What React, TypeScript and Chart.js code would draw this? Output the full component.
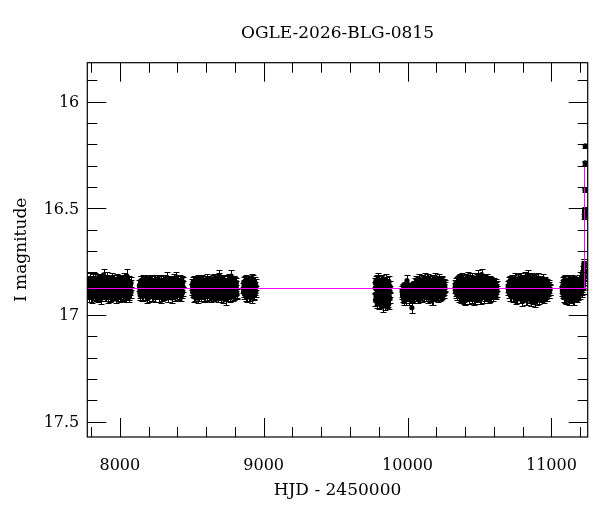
import React, { useEffect, useRef } from "react";
import { Chart, registerables } from "chart.js";

Chart.register(...registerables);

type Obs = [number, number, number]; // [HJD-2450000, I mag, error]
type Pt = [number, number]; // [HJD-2450000, I mag] with FILL_ERR

const TITLE = "OGLE-2026-BLG-0815";
const X_TITLE = "HJD - 2450000";
const Y_TITLE = "I magnitude";

const X_MIN = 7774;
const X_MAX = 11252;
const Y_MIN = 15.817;
const Y_MAX = 17.572;

const X_TICKS = [7800, 8000, 8200, 8400, 8600, 8800, 9000, 9200, 9400, 9600, 9800, 10000, 10200, 10400, 10600, 10800, 11000, 11200];
const X_MAJOR_TICKS = [8000, 9000, 10000, 11000];
const X_TICK_LABELS = ["8000", "9000", "10000", "11000"];
const Y_TICKS = [15.9, 16.0, 16.1, 16.2, 16.3, 16.4, 16.5, 16.6, 16.7, 16.8, 16.9, 17.0, 17.1, 17.2, 17.3, 17.4, 17.5];
const Y_MAJOR_TICKS = [16, 16.5, 17, 17.5];
const Y_TICK_LABELS = ["16", "16.5", "17", "17.5"];

const BASELINE_MAG = 16.874;
const T0 = 11226;
const PEAK_LINE_MAG = 16.3;
const FILL_ERR = 0.024;

const season1: Obs[] = [
  [7778, 16.842, .024], [7780, 16.889, .025], [7783, 16.866, .023], [7786, 16.911, .026], [7790, 16.828, .025],
  [7794, 16.872, .024], [7797, 16.902, .025], [7801, 16.848, .023], [7805, 16.884, .026], [7808, 16.918, .024],
  [7812, 16.835, .025], [7816, 16.861, .024], [7820, 16.897, .023], [7824, 16.876, .027], [7828, 16.829, .024],
  [7832, 16.908, .025], [7836, 16.852, .024], [7840, 16.888, .026], [7844, 16.869, .023], [7848, 16.915, .025],
  [7852, 16.838, .024], [7856, 16.879, .026], [7860, 16.899, .024], [7864, 16.845, .025], [7868, 16.871, .023],
  [7872, 16.922, .026], [7876, 16.832, .024], [7880, 16.858, .025], [7884, 16.894, .024], [7887, 16.812, .030],
  [7891, 16.876, .023], [7895, 16.909, .026], [7899, 16.843, .024], [7903, 16.866, .025], [7907, 16.887, .024],
  [7911, 16.826, .026], [7915, 16.917, .025], [7919, 16.853, .023], [7923, 16.882, .024], [7927, 16.898, .025],
  [7931, 16.839, .024], [7935, 16.870, .026], [7939, 16.912, .024], [7943, 16.848, .025], [7947, 16.826, .023],
  [7951, 16.891, .024], [7955, 16.864, .026], [7959, 16.905, .025], [7963, 16.836, .024], [7967, 16.877, .023],
  [7971, 16.919, .025], [7975, 16.856, .024], [7979, 16.884, .026], [7983, 16.831, .025], [7987, 16.899, .024],
  [7991, 16.868, .023], [7995, 16.846, .025], [7999, 16.913, .024], [8003, 16.875, .026], [8007, 16.838, .024],
  [8011, 16.892, .025], [8015, 16.861, .024], [8019, 16.908, .023], [8023, 16.845, .025], [8027, 16.881, .024],
  [8031, 16.829, .026], [8035, 16.897, .025], [8039, 16.866, .024], [8043, 16.916, .024], [8047, 16.815, .030],
  [8051, 16.853, .024], [8055, 16.887, .025], [8059, 16.871, .023], [8063, 16.904, .024], [8067, 16.842, .025],
  [8071, 16.878, .026], [8075, 16.858, .024], [8078, 16.893, .025],
];
const season1b: Pt[] = [
  [7782, 16.900], [7788, 16.853], [7792, 16.881], [7799, 16.865], [7803, 16.913], [7810, 16.840], [7814, 16.893],
  [7818, 16.872], [7822, 16.846], [7826, 16.904], [7830, 16.861], [7834, 16.886], [7838, 16.833], [7842, 16.907],
  [7846, 16.857], [7850, 16.878], [7854, 16.896], [7858, 16.841], [7862, 16.865], [7866, 16.912], [7870, 16.851],
  [7874, 16.884], [7878, 16.903], [7882, 16.838], [7889, 16.862], [7893, 16.849], [7897, 16.891], [7901, 16.874],
  [7905, 16.909], [7909, 16.856], [7913, 16.838], [7917, 16.883], [7921, 16.868], [7925, 16.843], [7929, 16.915],
  [7933, 16.882], [7937, 16.854], [7941, 16.874], [7945, 16.899], [7949, 16.860], [7953, 16.837], [7957, 16.885],
  [7961, 16.866], [7965, 16.907], [7969, 16.849], [7973, 16.890], [7977, 16.836], [7981, 16.873], [7985, 16.856],
  [7989, 16.912], [7993, 16.880], [7997, 16.864], [8001, 16.842], [8005, 16.900], [8009, 16.869], [8013, 16.835],
  [8017, 16.883], [8021, 16.857], [8025, 16.909], [8029, 16.866], [8033, 16.848], [8037, 16.886], [8041, 16.874],
  [8045, 16.838], [8049, 16.902], [8053, 16.869], [8057, 16.845], [8061, 16.881], [8065, 16.914], [8069, 16.860],
  [8073, 16.897], [8077, 16.848],
];

const season2: Obs[] = [
  [8136, 16.862, .024], [8140, 16.895, .025], [8144, 16.843, .024], [8148, 16.878, .026], [8152, 16.910, .024],
  [8156, 16.851, .025], [8160, 16.886, .023], [8164, 16.838, .024], [8168, 16.869, .026], [8172, 16.903, .025],
  [8176, 16.857, .024], [8180, 16.892, .023], [8184, 16.874, .025], [8188, 16.842, .024], [8192, 16.916, .026],
  [8196, 16.861, .024], [8200, 16.884, .025], [8204, 16.848, .024], [8208, 16.899, .023], [8212, 16.867, .025],
  [8216, 16.835, .024], [8220, 16.880, .026], [8224, 16.908, .024], [8228, 16.853, .025], [8232, 16.872, .024],
  [8236, 16.893, .023], [8240, 16.839, .025], [8244, 16.864, .024], [8248, 16.914, .026], [8252, 16.849, .024],
  [8256, 16.886, .025], [8260, 16.870, .024], [8264, 16.902, .023], [8268, 16.837, .025], [8272, 16.877, .024],
  [8276, 16.858, .026], [8280, 16.896, .024], [8284, 16.843, .025], [8288, 16.918, .024], [8292, 16.866, .023],
  [8296, 16.889, .025], [8300, 16.851, .024], [8304, 16.874, .026], [8308, 16.905, .024], [8312, 16.836, .025],
  [8316, 16.881, .024], [8320, 16.860, .023], [8324, 16.897, .025], [8328, 16.825, .028], [8332, 16.912, .026],
  [8336, 16.846, .024], [8340, 16.871, .025], [8344, 16.888, .024], [8348, 16.838, .023], [8352, 16.901, .025],
  [8356, 16.863, .024], [8360, 16.920, .026], [8364, 16.850, .024], [8368, 16.884, .025], [8372, 16.869, .024],
  [8376, 16.832, .023], [8380, 16.895, .025], [8384, 16.857, .024], [8388, 16.826, .028], [8392, 16.877, .026],
  [8396, 16.907, .024], [8400, 16.844, .025], [8404, 16.883, .024], [8408, 16.866, .023], [8412, 16.899, .025],
  [8416, 16.838, .024], [8420, 16.874, .026], [8424, 16.852, .024], [8428, 16.911, .025], [8432, 16.861, .024],
  [8436, 16.890, .023], [8439, 16.845, .025],
];
const season2b: Pt[] = [
  [8138, 16.874], [8142, 16.907], [8146, 16.856], [8150, 16.840], [8154, 16.883], [8158, 16.869], [8162, 16.912],
  [8166, 16.847], [8170, 16.886], [8174, 16.836], [8178, 16.873], [8182, 16.905], [8186, 16.858], [8190, 16.880],
  [8194, 16.845], [8198, 16.898], [8202, 16.866], [8206, 16.917], [8210, 16.852], [8214, 16.884], [8218, 16.863],
  [8222, 16.843], [8226, 16.893], [8230, 16.876], [8234, 16.910], [8238, 16.857], [8242, 16.887], [8246, 16.838],
  [8250, 16.870], [8254, 16.902], [8258, 16.847], [8262, 16.881], [8266, 16.861], [8270, 16.913], [8274, 16.842],
  [8278, 16.875], [8282, 16.866], [8286, 16.890], [8290, 16.849], [8294, 16.908], [8298, 16.871], [8302, 16.837],
  [8306, 16.884], [8310, 16.858], [8314, 16.900], [8318, 16.845], [8322, 16.876], [8326, 16.861], [8330, 16.889],
  [8334, 16.870], [8338, 16.915], [8342, 16.852], [8346, 16.881], [8350, 16.865], [8354, 16.840], [8358, 16.894],
  [8362, 16.876], [8366, 16.903], [8370, 16.847], [8374, 16.864], [8378, 16.886], [8382, 16.910], [8386, 16.841],
  [8390, 16.871], [8394, 16.856], [8398, 16.893], [8402, 16.866], [8406, 16.838], [8410, 16.880], [8414, 16.905],
  [8418, 16.859], [8422, 16.887], [8426, 16.871], [8430, 16.842], [8434, 16.898], [8438, 16.866],
];

const season3: Obs[] = [
  [8503, 16.858, .025], [8507, 16.893, .024], [8511, 16.846, .026], [8515, 16.912, .025], [8519, 16.871, .024],
  [8523, 16.838, .023], [8527, 16.884, .025], [8531, 16.902, .024], [8535, 16.855, .026], [8539, 16.877, .024],
  [8543, 16.921, .025], [8547, 16.842, .024], [8551, 16.866, .023], [8555, 16.895, .025], [8559, 16.851, .024],
  [8563, 16.883, .026], [8567, 16.910, .024], [8571, 16.836, .025], [8575, 16.872, .024], [8579, 16.899, .023],
  [8583, 16.859, .025], [8587, 16.887, .024], [8591, 16.845, .026], [8595, 16.914, .024], [8599, 16.868, .025],
  [8603, 16.834, .024], [8607, 16.891, .023], [8611, 16.876, .025], [8615, 16.853, .024], [8619, 16.905, .026],
  [8623, 16.840, .024], [8627, 16.880, .025], [8631, 16.864, .024], [8635, 16.918, .023], [8639, 16.848, .025],
  [8643, 16.886, .024], [8647, 16.870, .026], [8651, 16.897, .024], [8655, 16.832, .025], [8659, 16.861, .024],
  [8663, 16.908, .023], [8667, 16.843, .025], [8671, 16.878, .024], [8675, 16.892, .026], [8679, 16.855, .024],
  [8683, 16.916, .025], [8687, 16.829, .024], [8691, 16.815, .028], [8695, 16.873, .023], [8699, 16.901, .025],
  [8703, 16.849, .024], [8707, 16.885, .026], [8711, 16.863, .024], [8715, 16.920, .025], [8719, 16.838, .024],
  [8723, 16.876, .023], [8727, 16.894, .025], [8731, 16.851, .024], [8735, 16.868, .026], [8738, 16.925, .028],
  [8742, 16.842, .024], [8746, 16.883, .025], [8750, 16.909, .024], [8754, 16.857, .023], [8758, 16.872, .025],
  [8762, 16.833, .024], [8766, 16.896, .026], [8770, 16.865, .024], [8774, 16.817, .028], [8778, 16.889, .025],
  [8782, 16.847, .024], [8786, 16.913, .023], [8790, 16.870, .025], [8794, 16.839, .024], [8798, 16.893, .026],
  [8802, 16.861, .024], [8806, 16.882, .025], [8810, 16.850, .024], [8814, 16.903, .023],
];
const season3b: Pt[] = [
  [8505, 16.880], [8509, 16.866], [8513, 16.842], [8517, 16.895], [8521, 16.857], [8525, 16.908], [8529, 16.848],
  [8533, 16.873], [8537, 16.890], [8541, 16.862], [8545, 16.838], [8549, 16.886], [8553, 16.910], [8557, 16.869],
  [8561, 16.844], [8565, 16.878], [8569, 16.857], [8573, 16.900], [8577, 16.850], [8581, 16.884], [8585, 16.915],
  [8589, 16.866], [8593, 16.839], [8597, 16.893], [8601, 16.875], [8605, 16.852], [8609, 16.908], [8613, 16.841],
  [8617, 16.883], [8621, 16.869], [8625, 16.897], [8629, 16.848], [8633, 16.876], [8637, 16.861], [8641, 16.903],
  [8645, 16.838], [8649, 16.884], [8653, 16.912], [8657, 16.853], [8661, 16.879], [8665, 16.865], [8669, 16.899],
  [8673, 16.842], [8677, 16.870], [8681, 16.888], [8685, 16.851], [8689, 16.905], [8693, 16.838], [8697, 16.862],
  [8701, 16.884], [8705, 16.914], [8709, 16.846], [8713, 16.877], [8717, 16.896], [8721, 16.858], [8725, 16.840],
  [8729, 16.910], [8733, 16.880], [8737, 16.866], [8740, 16.893], [8744, 16.853], [8748, 16.872], [8752, 16.836],
  [8756, 16.900], [8760, 16.884], [8764, 16.850], [8768, 16.915], [8772, 16.862], [8776, 16.844], [8780, 16.874],
  [8784, 16.892], [8788, 16.857], [8792, 16.906], [8796, 16.871], [8800, 16.845], [8804, 16.886], [8808, 16.864],
  [8812, 16.897],
];

const season4: Obs[] = [
  [8858, 16.874, .025], [8862, 16.848, .024], [8866, 16.901, .026], [8870, 16.862, .024], [8874, 16.889, .025],
  [8878, 16.835, .024], [8882, 16.915, .025], [8886, 16.870, .023], [8890, 16.852, .024], [8894, 16.896, .026],
  [8898, 16.880, .024], [8902, 16.841, .025], [8906, 16.908, .024], [8910, 16.866, .023], [8914, 16.886, .025],
  [8918, 16.833, .026], [8922, 16.919, .025], [8926, 16.857, .024], [8930, 16.877, .025], [8934, 16.899, .024],
  [8938, 16.846, .023], [8942, 16.871, .025], [8945, 16.890, .024],
];
const season4b: Pt[] = [
  [8860, 16.893], [8864, 16.858], [8868, 16.880], [8872, 16.840], [8876, 16.910], [8880, 16.866], [8884, 16.897],
  [8888, 16.850], [8892, 16.876], [8896, 16.912], [8900, 16.862], [8904, 16.885], [8908, 16.845], [8912, 16.899],
  [8916, 16.870], [8920, 16.855], [8924, 16.890], [8928, 16.838], [8932, 16.868], [8936, 16.905], [8940, 16.882],
  [8944, 16.857],
];

const season5: Obs[] = [
  [9775, 16.873, .026], [9777, 16.930, .027], [9779, 16.902, .027], [9783, 16.851, .025], [9785, 16.880, .026],
  [9787, 16.925, .028], [9791, 16.838, .026], [9793, 16.910, .025], [9795, 16.829, .028], [9799, 16.884, .025],
  [9801, 16.857, .026], [9803, 16.947, .027], [9807, 16.861, .026], [9809, 16.942, .027], [9811, 16.912, .025],
  [9815, 16.843, .027], [9817, 16.870, .025], [9819, 16.890, .026], [9823, 16.933, .028], [9825, 16.840, .026],
  [9827, 16.868, .025], [9831, 16.955, .030], [9833, 16.908, .025], [9835, 16.849, .026], [9839, 16.897, .025],
  [9841, 16.950, .028], [9843, 16.918, .027], [9847, 16.836, .026], [9849, 16.889, .026], [9851, 16.876, .025],
  [9855, 16.940, .028], [9857, 16.846, .025], [9859, 16.858, .026], [9863, 16.905, .025], [9865, 16.935, .027],
  [9867, 16.882, .027], [9871, 16.845, .026], [9873, 16.896, .026], [9875, 16.921, .025], [9878, 16.866, .026],
];
const season5b: Pt[] = [
  [9776, 16.850], [9780, 16.840], [9781, 16.915], [9789, 16.870], [9790, 16.945], [9797, 16.900], [9800, 16.920],
  [9805, 16.890], [9810, 16.876], [9813, 16.928], [9820, 16.850], [9821, 16.860], [9829, 16.898], [9830, 16.880],
  [9837, 16.925], [9840, 16.870], [9845, 16.865], [9850, 16.935], [9853, 16.910], [9860, 16.915], [9861, 16.885],
  [9869, 16.950], [9870, 16.905], [9877, 16.890],
];

const season6: Obs[] = [
  [9962, 16.889, .025], [9966, 16.912, .026], [9970, 16.878, .024], [9974, 16.930, .025], [9978, 16.895, .024],
  [9982, 16.869, .026], [9986, 16.918, .025], [9990, 16.884, .024], [9996, 16.839, .027], [10000, 16.903, .025],
  [10004, 16.874, .024], [10008, 16.925, .026], [10012, 16.888, .024], [10016, 16.910, .025], [10020, 16.872, .024],
  [10024, 16.897, .023], [10030, 16.966, .025], [10034, 16.881, .024], [10038, 16.916, .026], [10042, 16.866, .025],
  [10046, 16.899, .024], [10050, 16.852, .025], [10054, 16.884, .024], [10058, 16.906, .026], [10062, 16.840, .025],
  [10066, 16.873, .024], [10070, 16.921, .025], [10074, 16.857, .024], [10078, 16.890, .023], [10082, 16.835, .025],
  [10086, 16.868, .024], [10090, 16.904, .026], [10094, 16.849, .024], [10098, 16.882, .025], [10102, 16.917, .024],
  [10106, 16.838, .023], [10110, 16.862, .025], [10114, 16.895, .024], [10118, 16.876, .026], [10122, 16.843, .024],
  [10126, 16.909, .025], [10130, 16.866, .024], [10134, 16.887, .023], [10138, 16.833, .025], [10142, 16.920, .026],
  [10146, 16.853, .024], [10150, 16.878, .025], [10154, 16.899, .024], [10158, 16.841, .023], [10162, 16.870, .025],
  [10166, 16.912, .024], [10170, 16.928, .026], [10174, 16.855, .024], [10178, 16.925, .028], [10182, 16.884, .025],
  [10186, 16.837, .024], [10190, 16.903, .023], [10194, 16.864, .025], [10198, 16.846, .024], [10202, 16.890, .026],
  [10206, 16.874, .024], [10210, 16.915, .025], [10214, 16.839, .024], [10218, 16.860, .023], [10222, 16.896, .025],
  [10226, 16.880, .024], [10230, 16.852, .026], [10234, 16.907, .024], [10238, 16.868, .025], [10242, 16.845, .024],
  [10246, 16.886, .023], [10250, 16.872, .025], [10254, 16.898, .024], [10258, 16.862, .025],
];
const season6b: Pt[] = [
  [9964, 16.900], [9968, 16.884], [9972, 16.918], [9976, 16.876], [9980, 16.905], [9984, 16.893], [9988, 16.928],
  [9992, 16.870], [9998, 16.912], [10002, 16.886], [10006, 16.898], [10010, 16.875], [10014, 16.922], [10018, 16.890],
  [10022, 16.908], [10026, 16.879], [10028, 16.915], [10032, 16.895], [10036, 16.868], [10040, 16.903], [10044, 16.883],
  [10048, 16.920], [10052, 16.869], [10056, 16.892], [10060, 16.857], [10064, 16.910], [10068, 16.880], [10072, 16.846],
  [10076, 16.898], [10080, 16.865], [10084, 16.913], [10088, 16.850], [10092, 16.886], [10096, 16.870], [10100, 16.838],
  [10104, 16.895], [10108, 16.877], [10112, 16.910], [10116, 16.853], [10120, 16.889], [10124, 16.828], [10128, 16.871],
  [10132, 16.902], [10136, 16.855], [10140, 16.884], [10144, 16.830], [10148, 16.896], [10152, 16.866], [10156, 16.915],
  [10160, 16.849], [10164, 16.880], [10168, 16.836], [10172, 16.902], [10176, 16.872], [10180, 16.858], [10184, 16.910],
  [10188, 16.829], [10192, 16.884], [10196, 16.868], [10200, 16.905], [10204, 16.850], [10208, 16.890], [10212, 16.866],
  [10216, 16.832], [10220, 16.878], [10224, 16.912], [10228, 16.858], [10232, 16.886], [10236, 16.842], [10240, 16.900],
  [10244, 16.866], [10248, 16.894], [10252, 16.855], [10256, 16.880], [10259, 16.870],
];

const season7: Obs[] = [
  [10330, 16.872, .024], [10334, 16.893, .025], [10338, 16.851, .024], [10342, 16.880, .026], [10346, 16.905, .024],
  [10350, 16.843, .025], [10354, 16.866, .024], [10358, 16.914, .023], [10362, 16.833, .025], [10366, 16.888, .024],
  [10370, 16.858, .026], [10374, 16.921, .024], [10378, 16.827, .025], [10382, 16.874, .024], [10386, 16.899, .023],
  [10390, 16.846, .025], [10394, 16.915, .024], [10398, 16.862, .026], [10402, 16.930, .025], [10406, 16.838, .024],
  [10410, 16.882, .025], [10414, 16.908, .024], [10418, 16.824, .026], [10422, 16.869, .024], [10426, 16.924, .025],
  [10430, 16.852, .024], [10434, 16.891, .023], [10438, 16.836, .025], [10442, 16.877, .024], [10446, 16.918, .026],
  [10450, 16.829, .024], [10454, 16.860, .025], [10458, 16.902, .024], [10462, 16.845, .023], [10466, 16.885, .025],
  [10470, 16.926, .024], [10474, 16.831, .026], [10478, 16.871, .024], [10482, 16.909, .025], [10486, 16.850, .024],
  [10490, 16.816, .027], [10494, 16.892, .025], [10498, 16.864, .024], [10502, 16.922, .026], [10506, 16.837, .024],
  [10510, 16.880, .025], [10514, 16.811, .027], [10518, 16.903, .024], [10522, 16.855, .025], [10526, 16.873, .024],
  [10530, 16.917, .026], [10534, 16.842, .024], [10538, 16.889, .025], [10542, 16.866, .024], [10546, 16.910, .023],
  [10550, 16.834, .025], [10554, 16.877, .024], [10558, 16.898, .026], [10562, 16.848, .024], [10566, 16.920, .025],
  [10570, 16.869, .024], [10574, 16.840, .023], [10578, 16.887, .025], [10582, 16.911, .024], [10586, 16.856, .026],
  [10590, 16.875, .024], [10594, 16.902, .025], [10598, 16.850, .024], [10602, 16.884, .023], [10606, 16.866, .025],
  [10610, 16.897, .024], [10614, 16.858, .026], [10618, 16.879, .024], [10621, 16.890, .025],
];
const season7b: Pt[] = [
  [10332, 16.858], [10336, 16.886], [10340, 16.866], [10344, 16.848], [10348, 16.897], [10352, 16.878], [10356, 16.838],
  [10360, 16.895], [10364, 16.861], [10368, 16.912], [10372, 16.848], [10376, 16.883], [10380, 16.905], [10384, 16.838],
  [10388, 16.870], [10392, 16.926], [10396, 16.852], [10400, 16.886], [10404, 16.830], [10408, 16.912], [10412, 16.862],
  [10416, 16.895], [10420, 16.845], [10424, 16.883], [10428, 16.905], [10432, 16.825], [10436, 16.866], [10440, 16.900],
  [10444, 16.852], [10448, 16.888], [10452, 16.912], [10456, 16.840], [10460, 16.874], [10464, 16.927], [10468, 16.858],
  [10472, 16.895], [10476, 16.846], [10480, 16.830], [10484, 16.880], [10488, 16.915], [10492, 16.862], [10496, 16.838],
  [10500, 16.902], [10504, 16.878], [10508, 16.925], [10512, 16.848], [10516, 16.866], [10520, 16.832], [10524, 16.894],
  [10528, 16.860], [10532, 16.878], [10536, 16.910], [10540, 16.835], [10544, 16.887], [10548, 16.858], [10552, 16.904],
  [10556, 16.845], [10560, 16.875], [10564, 16.893], [10568, 16.852], [10572, 16.915], [10576, 16.866], [10580, 16.848],
  [10584, 16.896], [10588, 16.878], [10592, 16.860], [10596, 16.910], [10600, 16.872], [10604, 16.855], [10608, 16.888],
  [10612, 16.870], [10616, 16.902], [10620, 16.864],
];

const season8: Obs[] = [
  [10699, 16.866, .024], [10703, 16.893, .025], [10707, 16.845, .024], [10711, 16.878, .026], [10715, 16.908, .024],
  [10719, 16.852, .025], [10723, 16.887, .024], [10727, 16.836, .023], [10731, 16.870, .025], [10735, 16.916, .024],
  [10739, 16.858, .026], [10743, 16.895, .024], [10747, 16.829, .025], [10751, 16.881, .024], [10755, 16.925, .023],
  [10759, 16.847, .025], [10763, 16.869, .024], [10767, 16.903, .026], [10771, 16.834, .024], [10775, 16.889, .025],
  [10779, 16.918, .024], [10783, 16.855, .023], [10787, 16.876, .025], [10791, 16.825, .024], [10795, 16.931, .026],
  [10799, 16.863, .024], [10803, 16.897, .025], [10807, 16.841, .024], [10811, 16.884, .023], [10815, 16.912, .025],
  [10819, 16.822, .024], [10823, 16.871, .026], [10827, 16.850, .024], [10831, 16.926, .025], [10835, 16.815, .028],
  [10839, 16.892, .024], [10843, 16.861, .025], [10847, 16.906, .024], [10851, 16.838, .023], [10855, 16.879, .025],
  [10859, 16.933, .024], [10863, 16.827, .026], [10867, 16.868, .024], [10871, 16.899, .025], [10875, 16.846, .024],
  [10879, 16.921, .023], [10883, 16.883, .025], [10886, 16.935, .026], [10890, 16.832, .024], [10894, 16.873, .025],
  [10898, 16.910, .024], [10902, 16.854, .023], [10906, 16.890, .025], [10910, 16.840, .024], [10914, 16.924, .026],
  [10918, 16.866, .024], [10922, 16.897, .025], [10926, 16.848, .024], [10930, 16.880, .023], [10934, 16.915, .025],
  [10938, 16.859, .024], [10942, 16.835, .026], [10946, 16.887, .024], [10950, 16.906, .025], [10954, 16.870, .024],
  [10958, 16.851, .023], [10962, 16.896, .025], [10966, 16.877, .024], [10970, 16.909, .026], [10974, 16.862, .024],
  [10978, 16.884, .025], [10982, 16.871, .024], [10986, 16.893, .025], [10989, 16.880, .024],
];
const season8b: Pt[] = [
  [10701, 16.880], [10705, 16.860], [10709, 16.898], [10713, 16.840], [10717, 16.873], [10721, 16.912], [10725, 16.866],
  [10729, 16.852], [10733, 16.894], [10737, 16.837], [10741, 16.878], [10745, 16.910], [10749, 16.858], [10753, 16.846],
  [10757, 16.888], [10761, 16.918], [10765, 16.832], [10769, 16.874], [10773, 16.860], [10777, 16.900], [10781, 16.840],
  [10785, 16.922], [10789, 16.866], [10793, 16.884], [10797, 16.838], [10801, 16.910], [10805, 16.876], [10809, 16.852],
  [10813, 16.895], [10817, 16.866], [10821, 16.930], [10825, 16.840], [10829, 16.882], [10833, 16.826], [10837, 16.860],
  [10841, 16.918], [10845, 16.875], [10849, 16.892], [10853, 16.830], [10857, 16.905], [10861, 16.850], [10865, 16.884],
  [10869, 16.925], [10873, 16.866], [10877, 16.838], [10881, 16.898], [10885, 16.858], [10888, 16.915], [10892, 16.880],
  [10896, 16.845], [10900, 16.930], [10904, 16.870], [10908, 16.828], [10912, 16.900], [10916, 16.858], [10920, 16.884],
  [10924, 16.840], [10928, 16.912], [10932, 16.866], [10936, 16.895], [10940, 16.850], [10944, 16.878], [10948, 16.918],
  [10952, 16.845], [10956, 16.886], [10960, 16.866], [10964, 16.902], [10968, 16.856], [10972, 16.888], [10976, 16.872],
  [10980, 16.898], [10984, 16.860], [10988, 16.884],
];

const season9: Obs[] = [
  [11074, 16.872, .025], [11078, 16.898, .024], [11082, 16.850, .026], [11086, 16.915, .025], [11090, 16.866, .024],
  [11094, 16.838, .025], [11098, 16.887, .024], [11102, 16.924, .026], [11106, 16.859, .024], [11110, 16.903, .025],
  [11114, 16.876, .024], [11118, 16.842, .023], [11122, 16.930, .025], [11126, 16.868, .024], [11130, 16.893, .026],
  [11134, 16.851, .024], [11138, 16.918, .025], [11142, 16.880, .024], [11146, 16.835, .023], [11150, 16.907, .025],
  [11154, 16.861, .024], [11158, 16.926, .026], [11162, 16.874, .024], [11166, 16.845, .025], [11170, 16.896, .024],
  [11174, 16.868, .023], [11178, 16.912, .025], [11182, 16.852, .024], [11186, 16.884, .026], [11190, 16.838, .024],
  [11194, 16.900, .025], [11198, 16.863, .024], [11202, 16.879, .023], [11206, 16.846, .025], [11209, 16.892, .024],
  [11212, 16.830, .025], [11214, 16.866, .024], [11216, 16.812, .025], [11218, 16.852, .024], [11220, 16.796, .024],
  [11222, 16.840, .025], [11223, 16.778, .024], [11224, 16.818, .023], [11225, 16.760, .024], [11226, 16.800, .023],
  [11227, 16.772, .024], [11228, 16.790, .023],
];
const season9b: Pt[] = [
  [11076, 16.886], [11080, 16.862], [11084, 16.840], [11088, 16.900], [11092, 16.878], [11096, 16.920], [11100, 16.850],
  [11104, 16.893], [11108, 16.872], [11112, 16.838], [11116, 16.910], [11120, 16.862], [11124, 16.885], [11128, 16.848],
  [11132, 16.915], [11136, 16.870], [11140, 16.897], [11144, 16.858], [11148, 16.880], [11152, 16.928], [11156, 16.842],
  [11160, 16.890], [11164, 16.866], [11168, 16.912], [11172, 16.850], [11176, 16.885], [11180, 16.870], [11184, 16.905],
  [11188, 16.860], [11192, 16.878], [11196, 16.845], [11200, 16.900], [11204, 16.866], [11207, 16.880], [11210, 16.855],
  [11213, 16.838], [11215, 16.880], [11217, 16.825], [11219, 16.860], [11221, 16.815], [11223, 16.850], [11225, 16.835],
  [11227, 16.812], [11228, 16.760],
];

const rising: Obs[] = [
  [11229, 16.540, .012], [11230, 16.515, .012], [11231, 16.528, .011], [11232, 16.505, .012],
  [11233, 16.414, .010], [11234, 16.286, .009], [11235, 16.207, .008],
];

const withErr = (pts: Pt[]): Obs[] => pts.map(([t, m]) => [t, m, FILL_ERR]);

const ALL_OBS: Obs[] = [
  ...season1, ...withErr(season1b), ...season2, ...withErr(season2b), ...season3, ...withErr(season3b),
  ...season4, ...withErr(season4b), ...season5, ...withErr(season5b), ...season6, ...withErr(season6b),
  ...season7, ...withErr(season7b), ...season8, ...withErr(season8b), ...season9, ...withErr(season9b),
  ...rising,
];

const SERIF = "'DejaVu Serif', 'Liberation Serif', serif";
const MODEL_COLOR = "#ff00ff";

const decorPlugin = {
  id: "lcDecor",
  beforeDatasetsDraw(chart: any) {
    const { ctx, chartArea, scales } = chart;
    const xs = scales.x;
    const ys = scales.y;
    ctx.save();
    ctx.beginPath();
    ctx.rect(chartArea.left, chartArea.top, chartArea.right - chartArea.left, chartArea.bottom - chartArea.top);
    ctx.clip();
    ctx.strokeStyle = "#000";
    ctx.lineWidth = 1;
    ctx.beginPath();
    for (const [t, m, e] of ALL_OBS) {
      const x = Math.round(xs.getPixelForValue(t)) + 0.5;
      const y1 = Math.round(ys.getPixelForValue(m - e)) + 0.5;
      const y2 = Math.round(ys.getPixelForValue(m + e)) + 0.5;
      ctx.moveTo(x, y1);
      ctx.lineTo(x, y2);
      ctx.moveTo(x - 3, y1);
      ctx.lineTo(x + 3, y1);
      ctx.moveTo(x - 3, y2);
      ctx.lineTo(x + 3, y2);
    }
    ctx.stroke();
    ctx.restore();
  },
  afterDatasetsDraw(chart: any) {
    const { ctx, chartArea, scales } = chart;
    const xs = scales.x;
    const ys = scales.y;
    ctx.save();
    ctx.strokeStyle = MODEL_COLOR;
    ctx.lineWidth = 1;
    const yb = Math.round(ys.getPixelForValue(BASELINE_MAG)) + 0.5;
    const xt = Math.round(xs.getPixelForValue(T0)) + 0.5;
    const yp = ys.getPixelForValue(PEAK_LINE_MAG);
    ctx.beginPath();
    ctx.moveTo(chartArea.left, yb);
    ctx.lineTo(chartArea.right, yb);
    ctx.moveTo(xt, yb);
    ctx.lineTo(xt, yp);
    ctx.stroke();
    ctx.restore();
  },
  afterDraw(chart: any) {
    const { ctx, chartArea, scales } = chart;
    const xs = scales.x;
    const ys = scales.y;
    const { left, right, top, bottom } = chartArea;
    ctx.save();
    ctx.strokeStyle = "#000";
    ctx.lineWidth = 1.2;
    ctx.strokeRect(left, top, right - left, bottom - top);
    ctx.lineWidth = 1;
    ctx.beginPath();
    for (const v of X_TICKS) {
      const x = Math.round(xs.getPixelForValue(v)) + 0.5;
      const len = X_MAJOR_TICKS.includes(v) ? 19 : 10;
      ctx.moveTo(x, bottom);
      ctx.lineTo(x, bottom - len);
      ctx.moveTo(x, top);
      ctx.lineTo(x, top + len);
    }
    for (const v of Y_TICKS) {
      const y = Math.round(ys.getPixelForValue(v)) + 0.5;
      const major = Y_MAJOR_TICKS.some((m) => Math.abs(m - v) < 1e-6);
      const len = major ? 19 : 10;
      ctx.moveTo(left, y);
      ctx.lineTo(left + len, y);
      ctx.moveTo(right, y);
      ctx.lineTo(right - len, y);
    }
    ctx.stroke();

    ctx.fillStyle = "#000";
    ctx.font = `16px ${SERIF}`;
    ctx.textAlign = "center";
    ctx.textBaseline = "middle";
    X_MAJOR_TICKS.forEach((v, i) => {
      ctx.fillText(X_TICK_LABELS[i], xs.getPixelForValue(v), bottom + 29);
    });
    ctx.textAlign = "right";
    Y_MAJOR_TICKS.forEach((v, i) => {
      ctx.fillText(Y_TICK_LABELS[i], left - 8, ys.getPixelForValue(v) + 1);
    });

    ctx.font = `17px ${SERIF}`;
    ctx.textAlign = "center";
    const cx = (left + right) / 2;
    ctx.fillText(TITLE, cx, 34);
    ctx.fillText(X_TITLE, cx, bottom + 54);
    ctx.save();
    ctx.translate(22, (top + bottom) / 2);
    ctx.rotate(-Math.PI / 2);
    ctx.fillText(Y_TITLE, 0, 0);
    ctx.restore();
    ctx.restore();
  },
};

export default function App() {
  const canvasRef = useRef<HTMLCanvasElement | null>(null);

  useEffect(() => {
    const canvas = canvasRef.current;
    if (!canvas) return;
    const chart = new Chart(canvas, {
      type: "scatter",
      data: {
        datasets: [
          {
            label: "OGLE I",
            data: ALL_OBS.map(([t, m]) => ({ x: t, y: m })),
            backgroundColor: "#000",
            borderWidth: 0,
            pointRadius: 2.6,
            pointHoverRadius: 2.6,
          },
        ],
      },
      options: {
        responsive: false,
        animation: false,
        events: [],
        layout: { padding: { left: 87.3, top: 62.7, right: 12.3, bottom: 75 } },
        scales: {
          x: { type: "linear", min: X_MIN, max: X_MAX, display: false },
          y: { type: "linear", min: Y_MIN, max: Y_MAX, reverse: true, display: false },
        },
        plugins: {
          legend: { display: false },
          tooltip: { enabled: false },
          title: { display: false },
        },
      },
      plugins: [decorPlugin],
    });
    return () => chart.destroy();
  }, []);

  return (
    <div style={{ position: "fixed", left: 0, top: 0, width: 600, height: 512, background: "#fff" }}>
      <canvas ref={canvasRef} width={600} height={512} style={{ display: "block" }} />
    </div>
  );
}
